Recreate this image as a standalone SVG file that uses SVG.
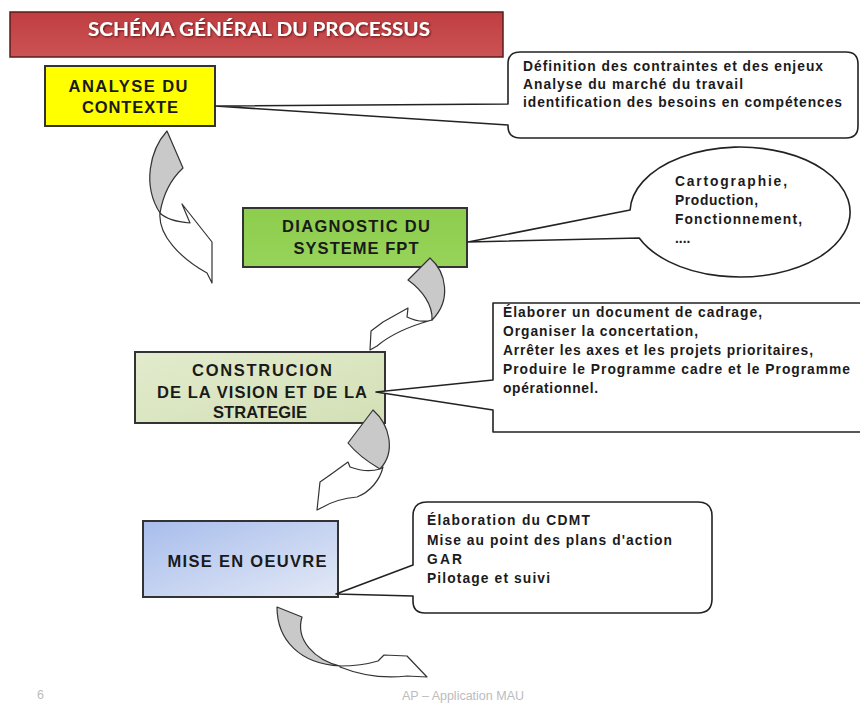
<svg xmlns="http://www.w3.org/2000/svg" width="860" height="704" viewBox="0 0 860 704">
<defs>
<style>
.box{stroke:#333;stroke-width:2}
.bt{font-family:"Liberation Sans",Arial,sans-serif;font-weight:bold;font-size:16.5px;fill:#1a1a1a;text-anchor:middle}
.ct{font-family:"Liberation Sans",Arial,sans-serif;font-weight:bold;font-size:13.8px;fill:#1b1b1b}
.callout{fill:#fff;stroke:#222;stroke-width:1.6;stroke-linejoin:round}
.back{fill:#c9c9c9;stroke:#333;stroke-width:1.2;stroke-linejoin:round}
.front{fill:#fff;stroke:#333;stroke-width:1.2;stroke-linejoin:round}
.foot{font-family:"Liberation Sans",Arial,sans-serif;font-size:12.5px;fill:#bcbcbc}
</style>
<linearGradient id="gTitle" x1="0" y1="0" x2="0" y2="1">
<stop offset="0" stop-color="#bf3e41"/>
<stop offset="1" stop-color="#cc5254"/>
</linearGradient>
<linearGradient id="gGreen" x1="0" y1="0" x2="0" y2="1">
<stop offset="0" stop-color="#8dcd4c"/>
<stop offset="1" stop-color="#97d35a"/>
</linearGradient>
<linearGradient id="gPale" x1="0" y1="0" x2="1" y2="1">
<stop offset="0" stop-color="#e2ebcd"/>
<stop offset="1" stop-color="#d3e0b6"/>
</linearGradient>
<linearGradient id="gBlue" x1="0" y1="0" x2="1" y2="1">
<stop offset="0" stop-color="#a8bdec"/>
<stop offset="1" stop-color="#e3e9f6"/>
</linearGradient>
<filter id="shadow" x="-5%" y="-20%" width="110%" height="140%">
<feDropShadow dx="1" dy="1" stdDeviation="0.8" flood-color="#5a1010" flood-opacity="0.9"/>
</filter>
</defs>
<rect width="860" height="704" fill="#fff"/>

<g id="title">
<rect x="10" y="12" width="493" height="45" fill="url(#gTitle)" stroke="#5a1c1c" stroke-width="1.5"/>
<text x="88" y="36" textLength="342" lengthAdjust="spacingAndGlyphs" filter="url(#shadow)" style="font-family:Lato,'Liberation Sans',sans-serif;font-weight:bold;font-size:19px;fill:#fff">SCHÉMA GÉNÉRAL DU PROCESSUS</text>
</g>

<g id="node-analyse">
<rect class="box" x="45" y="66" width="170" height="60" fill="#ffff00"/>
<text class="bt" x="128" y="92" textLength="119">ANALYSE DU</text>
<text class="bt" x="130" y="113" textLength="96">CONTEXTE</text>
</g>

<g id="node-diagnostic">
<rect class="box" x="243" y="208" width="224" height="59" fill="url(#gGreen)"/>
<text class="bt" x="356" y="232" textLength="148">DIAGNOSTIC DU</text>
<text class="bt" x="356" y="254" textLength="125">SYSTEME FPT</text>
</g>

<g id="node-construction">
<rect class="box" x="135" y="352" width="250" height="71" fill="url(#gPale)"/>
<text class="bt" x="262" y="376" textLength="140">CONSTRUCION</text>
<text class="bt" x="262" y="398" textLength="210">DE LA VISION ET DE LA</text>
<text class="bt" x="260" y="418" textLength="94">STRATEGIE</text>
</g>

<g id="node-mise">
<rect class="box" x="143" y="521" width="195" height="76" fill="url(#gBlue)"/>
<text class="bt" x="247" y="567" textLength="159">MISE EN OEUVRE</text>
</g>

<g id="callout-contexte">
<path class="callout" d="M520,52 H846 Q858,52 858,64 V126 Q858,138 846,138 H520 Q508,138 508,126 V125 L215,106 L508,104 V64 Q508,52 520,52 Z"/>
<text class="ct" x="523" y="71" textLength="300">Définition des contraintes et des enjeux</text>
<text class="ct" x="523" y="89" textLength="220">Analyse du marché du travail</text>
<text class="ct" x="523" y="107" textLength="319">identification des besoins en compétences</text>
</g>

<g id="callout-diagnostic">
<path class="callout" d="M630.1,210 L468,242 L639.2,238 A110,65 0 1,0 630.1,210 Z"/>
<text class="ct" x="675" y="186" textLength="112">Cartographie,</text>
<text class="ct" x="675" y="205" textLength="83">Production,</text>
<text class="ct" x="675" y="224" textLength="127">Fonctionnement,</text>
<text class="ct" x="675" y="243">....</text>
</g>

<g id="callout-construction">
<path class="callout" d="M493,303 H870 V432 H493 V410 L376,392 L493,380 Z"/>
<text class="ct" x="503" y="317" textLength="259">Élaborer un document de cadrage,</text>
<text class="ct" x="503" y="336" textLength="195">Organiser la concertation,</text>
<text class="ct" x="503" y="355" textLength="310">Arrêter les axes et les projets prioritaires,</text>
<text class="ct" x="503" y="374" textLength="347">Produire le Programme cadre et le Programme</text>
<text class="ct" x="503" y="393" textLength="95">opérationnel.</text>
</g>

<g id="callout-mise">
<path class="callout" d="M427,502 H698 Q712,502 712,516 V599 Q712,613 698,613 H425 Q413,613 413,601 V596 L336,594 L413,565 V516 Q413,502 427,502 Z"/>
<text class="ct" x="427" y="525" textLength="163">Élaboration du CDMT</text>
<text class="ct" x="427" y="545" textLength="245">Mise au point des plans d'action</text>
<text class="ct" x="427" y="564" textLength="35">GAR</text>
<text class="ct" x="427" y="583" textLength="123">Pilotage et suivi</text>
</g>

<g id="connectors">
<g id="arrow-1">
<path class="back" d="M167,131 C150,150 142,185 160,213 C163,195 170,180 183,168 Z"/>
<path class="front" d="M160,213 C158,235 180,258 207,273 L212,283 L212,242 L182,204 L190,223 C178,222 166,219 160,213 Z"/>
</g>
<g id="arrow-2">
<path class="back" d="M408,280 L430,258 C446,272 452,300 432,320 C433,305 422,290 408,280 Z"/>
<path class="front" d="M432,320 C425,322 415,321 407,317 L408,308 L383,322 L371,331 L370,350 L377,346 C390,335 410,326 432,320 Z"/>
</g>
<g id="arrow-3">
<path class="back" d="M348,443 L373,410 C390,425 396,452 380,469 C368,462 356,453 348,443 Z"/>
<path class="front" d="M380,469 C370,472 358,470 350,467 L348,462 L330,475 L320,482 L317,510 L323,507 C335,500 346,498 357,497 C370,492 380,480 383,467 Z"/>
</g>
<g id="arrow-4">
<path class="back" d="M277,607 L302,617 C295,640 315,660 340,666 C300,664 277,640 277,607 Z"/>
<path class="front" d="M340,666 C355,666 368,664 378,661 L384,655 L407,656 L427,677 L407,676 C390,678 365,677 340,667 Z"/>
</g>
</g>

<g id="footer">
<text class="foot" x="37" y="699">6</text>
<text class="foot" x="463" y="700" text-anchor="middle">AP – Application MAU</text>
</g>
</svg>
